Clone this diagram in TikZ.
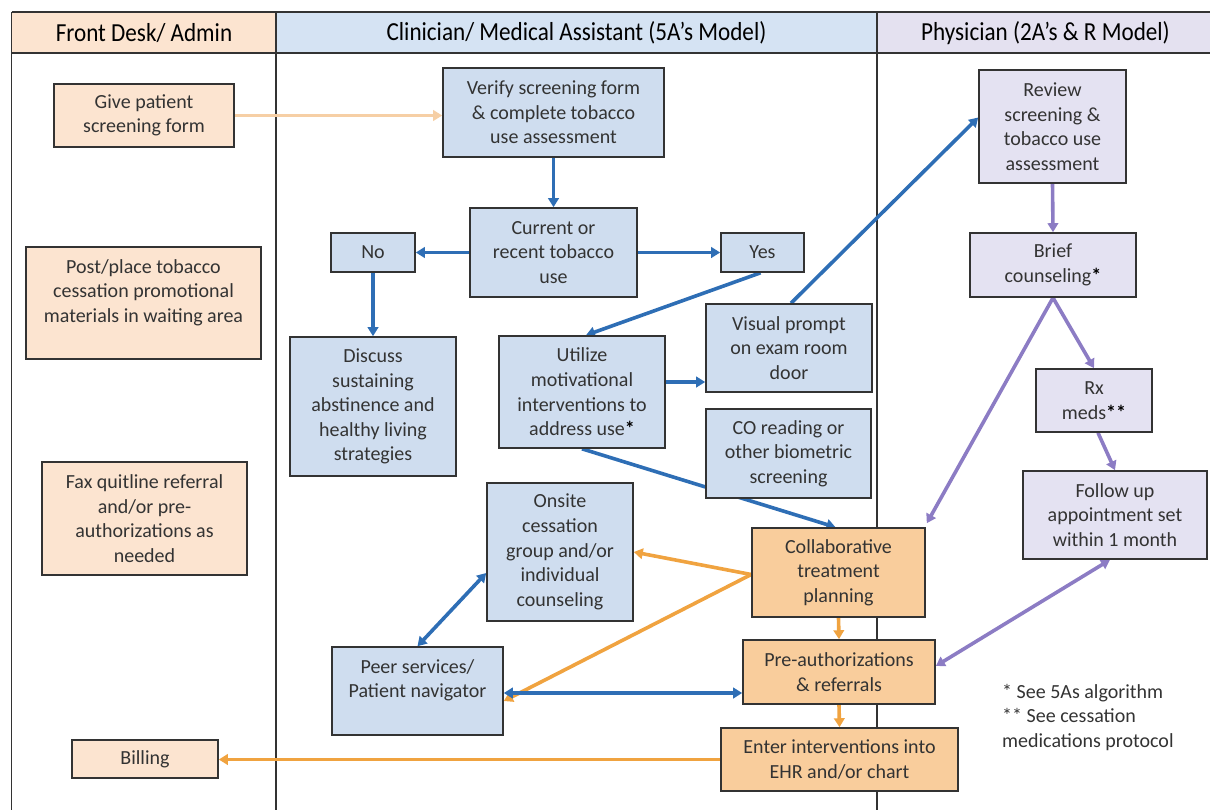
\documentclass[tikz,border=0pt]{standalone}
\usepackage{fontspec}
\setmainfont{Carlito}
\usetikzlibrary{arrows.meta}
\pgfdeclarelayer{tbl}
\pgfdeclarelayer{edges}
\pgfsetlayers{tbl,edges,main}
\definecolor{peachL}{HTML}{FCE4D0}
\definecolor{blueB}{HTML}{CFDDEF}
\definecolor{blueH}{HTML}{D5E3F3}
\definecolor{lavB}{HTML}{E4E2F2}
\definecolor{lavH}{HTML}{E4E1F0}
\definecolor{orangeB}{HTML}{F9CD9C}
\definecolor{bluA}{HTML}{2E6EB5}
\definecolor{orA}{HTML}{F0A340}
\definecolor{peA}{HTML}{F6CFA5}
\definecolor{puA}{HTML}{8C7CC4}
\definecolor{lineC}{HTML}{333333}
\definecolor{txtC}{HTML}{333333}
\begin{document}
\begin{tikzpicture}[x=1pt,y=-1pt,
  box/.style={draw=lineC, line width=1.6pt, align=center, inner sep=0pt, text=txtC,
    font=\fontsize{20}{24.6}\selectfont},
  fd/.style={box, fill=peachL},
  cl/.style={box, fill=blueB},
  ph/.style={box, fill=lavB},
  co/.style={box, fill=orangeB},
  hdr/.style={inner sep=0pt, text=black, font=\fontsize{26}{30}\selectfont},
  arr/.style={line width=3.6pt, -{Triangle[length=9pt,width=10.5pt]}},
  darr/.style={line width=3.6pt, {Triangle[length=9pt,width=10.5pt]}-{Triangle[length=9pt,width=10.5pt]}},
  ba/.style={arr, draw=bluA, fill=bluA},
  bda/.style={darr, draw=bluA, fill=bluA},
  oa/.style={arr, draw=orA, fill=orA},
  pa/.style={arr, draw=puA, fill=puA},
  pda/.style={darr, draw=puA, fill=puA},
  tline/.style={draw=lineC, line width=1.3pt}
]
\useasboundingbox (0,0) rectangle (1210,809);
\clip (0,0) rectangle (1210,809);

% table
\begin{pgfonlayer}{tbl}
\fill[peachL] (11.7,12) rectangle (276,53);
\fill[blueH] (276,12) rectangle (877,53);
\fill[lavH] (877,12) rectangle (1220,53);
\draw[tline] (11.7,12) -- (1220,12);
\draw[tline] (11.7,53) -- (1220,53);
\draw[tline] (11.7,12) -- (11.7,812);
\draw[tline] (276,12) -- (276,812);
\draw[tline] (877,12) -- (877,812);
\end{pgfonlayer}

\node[hdr] (h1) at (144,33) {\scalebox{0.89}[1]{Front Desk/ Admin}};
\node[hdr] (h2) at (576.5,33) {\scalebox{0.89}[1]{Clinician/ Medical Assistant (5A’s Model)}};
\node[hdr] (h3) at (1045.5,33) {\scalebox{0.89}[1]{Physician (2A’s \& R Model)}};

% front desk
\node[fd, minimum width=180, minimum height=63] (give) at (144,115.5) {Give patient\\screening form};
\node[fd, minimum width=235, minimum height=112] (post) at (143.5,303) {Post/place tobacco\\cessation promotional\\materials in waiting area\\~};
\node[fd, minimum width=205, minimum height=113] (fax) at (144.5,518.5) {Fax quitline referral\\and/or pre-\\authorizations as\\needed};
\node[fd, minimum width=146, minimum height=38] (billing) at (145,759) {Billing};

% clinician
\node[cl, minimum width=221, minimum height=89] (verify) at (553.5,112.5) {Verify screening form\\\& complete tobacco\\use assessment};
\node[cl, minimum width=167, minimum height=89] (current) at (553.5,252.5) {Current or\\recent tobacco\\use};
\node[cl, minimum width=84, minimum height=39] (no) at (373,252.5) {No};
\node[cl, minimum width=83, minimum height=39] (yes) at (762.5,252.5) {Yes};
\node[cl, minimum width=166, minimum height=139] (discuss) at (373,406.5) {Discuss\\sustaining\\abstinence and\\healthy living\\strategies};
\node[cl, minimum width=166, minimum height=112] (utilize) at (582,392) {Utilize\\motivational\\interventions to\\address use{\bfseries\color{black}*}};
\node[cl, minimum width=166, minimum height=88] (visual) at (789,348) {Visual prompt\\on exam room\\door};
\node[cl, minimum width=165, minimum height=89] (co) at (788.5,453.5) {CO reading or\\other biometric\\screening};
\node[cl, minimum width=146, minimum height=138] (onsite) at (560,552) {Onsite\\cessation\\group and/or\\individual\\counseling};
\node[cl, minimum width=171, minimum height=88] (peer) at (417.5,691) {Peer services/\\Patient navigator\\~};
\node[co, minimum width=173, minimum height=89] (collab) at (838.5,572.5) {Collaborative\\treatment\\planning};
\node[co, minimum width=192, minimum height=64] (preauth) at (839,672) {Pre-authorizations\\\& referrals};
\node[co, minimum width=237, minimum height=63] (enter) at (839.5,759.5) {Enter interventions into\\EHR and/or chart};

% physician
\node[ph, minimum width=147, minimum height=113] (review) at (1052.5,126.5) {Review\\screening \&\\tobacco use\\assessment};
\node[ph, minimum width=166, minimum height=64] (brief) at (1053,265) {Brief\\counseling{\bfseries\color{black}*}};
\node[ph, minimum width=116, minimum height=63] (rx) at (1094,400.5) {Rx\\meds{\bfseries\color{black}**}};
\node[ph, minimum width=184, minimum height=88] (follow) at (1115,515) {Follow up\\appointment set\\within 1 month};

\node[anchor=west, align=left, inner sep=0pt, text=txtC, font=\fontsize{20}{24.6}\selectfont] (notes) at (1002,717.5)
  {* See 5As algorithm\\** See cessation\\medications protocol};

% connectors
\begin{pgfonlayer}{edges}
\draw[arr, line width=3pt, draw=peA, fill=peA] (give.east) -- (give.east -| verify.west);
\draw[ba] (verify.south) -- (current.north);
\draw[ba] (current.west) -- (no.east);
\draw[ba] (current.east) -- (yes.west);
\draw[ba] (no.south) -- (discuss.north);
\draw[ba] ([xshift=-2pt]yes.south) -- ([xshift=4pt]utilize.north);
\draw[ba] ([yshift=10pt]utilize.east) -- ([yshift=10pt]utilize.east -| visual.west);
\draw[ba] ([xshift=2pt]visual.north) -- ([yshift=9pt]review.west);
\draw[ba] (utilize.south) -- ([xshift=-3pt]collab.north);
\draw[oa] ([yshift=-2pt]collab.west) -- (onsite.east);
\draw[oa] ([yshift=-2pt]collab.west) -- ([yshift=-10pt]peer.east);
\draw[bda] ([yshift=-21pt]onsite.west) -- (peer.north);
\draw[bda] ([yshift=-2pt]peer.east) -- ([yshift=-2pt]peer.east -| preauth.west);
\draw[oa] (collab.south) -- (preauth.north);
\draw[oa] (preauth.south) -- (enter.north);
\draw[oa] (enter.west) -- (enter.west -| billing.east);
\draw[pa] (review.south) -- (brief.north);
\draw[pa] (brief.south) -- (rx.north);
\draw[pa] (brief.south) -- ([xshift=1pt,yshift=4pt]collab.north east);
\draw[pa] ([xshift=4pt]rx.south) -- (follow.north);
\draw[pda] ([xshift=-5pt]follow.south) -- ([yshift=6pt]preauth.east);
\end{pgfonlayer}
\end{tikzpicture}
\end{document}
